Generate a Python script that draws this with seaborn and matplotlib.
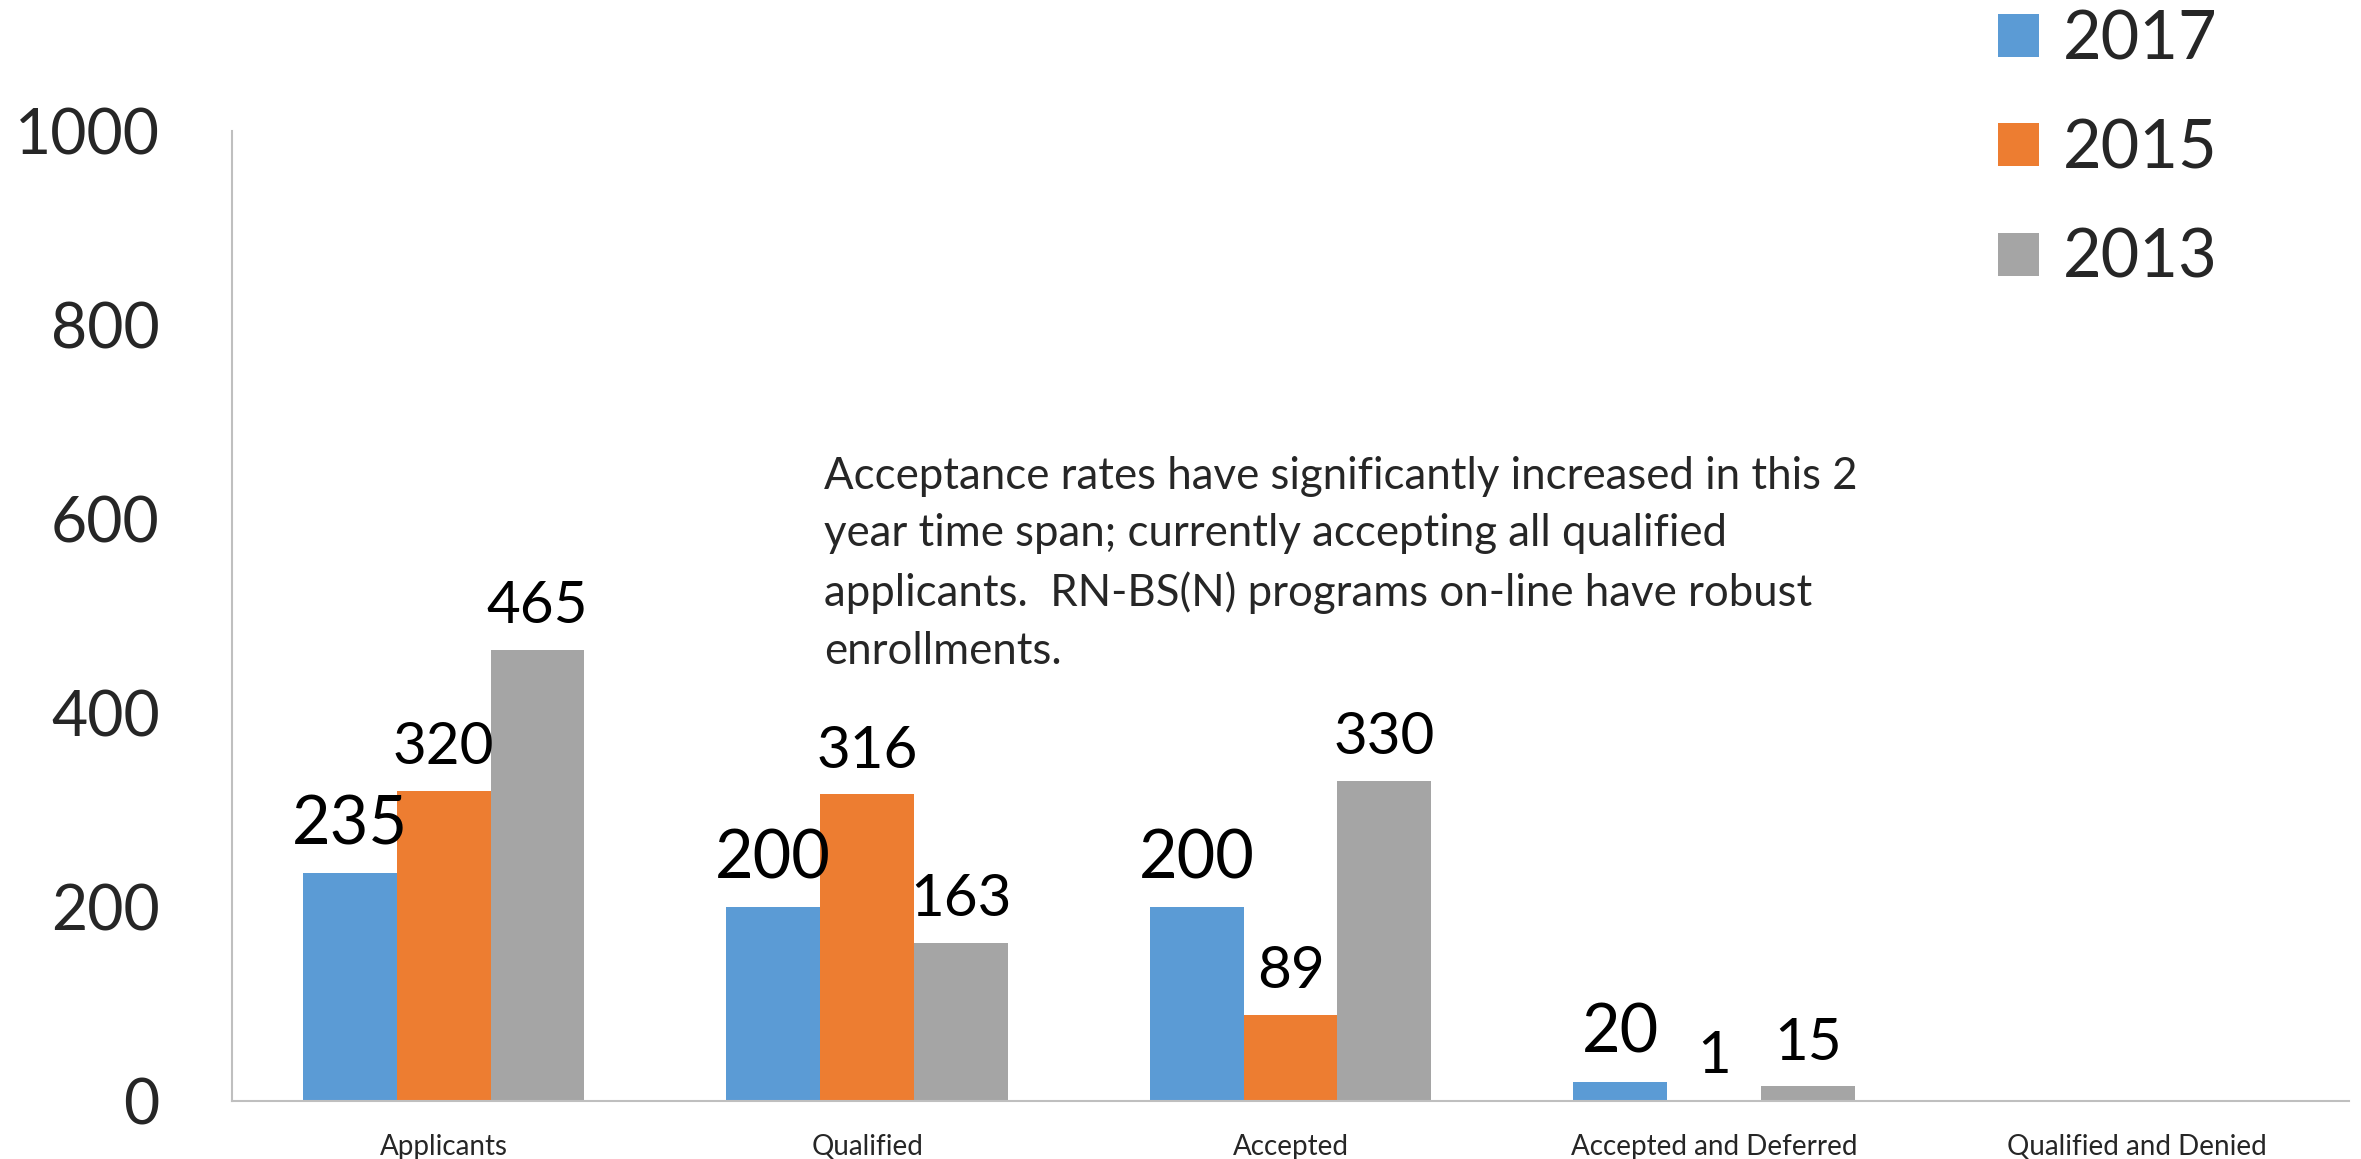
import numpy as np
import pandas as pd
import matplotlib
matplotlib.use("Agg")
import matplotlib.pyplot as plt
import seaborn as sns
from matplotlib.patches import Patch

# ── Data ─────────────────────────────────────────────────────
categories = ["Applicants", "Qualified", "Accepted",
              "Accepted and Deferred", "Qualified and Denied"]
years = ["2017", "2015", "2013"]
vals_2017 = [235, 200, 200, 20, np.nan]
vals_2015 = [320, 316, 89, 1, np.nan]
vals_2013 = [465, 163, 330, 15, np.nan]
colors = ["#5B9BD5", "#ED7D31", "#A5A5A5"]
note = ("Acceptance rates have significantly increased in this 2\n"
        "year time span; currently accepting all qualified\n"
        "applicants.  RN-BS(N) programs on-line have robust\n"
        "enrollments.")

df = pd.DataFrame({
    "category": categories * 3,
    "year": [y for y in years for _ in categories],
    "value": vals_2017 + vals_2015 + vals_2013,
})

sns.set_theme(style="white")
plt.rcParams["font.family"] = ["Lato", "DejaVu Sans"]

fig = plt.figure(figsize=(23.61, 11.59), dpi=100)
ax = fig.add_axes([232 / 2361, 1 - 1101 / 1159, (2349 - 232) / 2361, (1101 - 131) / 1159])

sns.barplot(data=df, x="category", y="value", hue="year", order=categories,
            hue_order=years, palette=colors, saturation=1, width=0.665,
            linewidth=0, errorbar=None, ax=ax, legend=False)

ax.set_xlim(-0.5, len(categories) - 0.5)
ax.set_ylim(0, 1000)
ax.set_yticks(range(0, 1001, 200))
ax.set_xlabel("")
ax.set_ylabel("")
ax.tick_params(axis="y", length=0, labelsize=45, pad=52)
ax.tick_params(axis="x", length=0, labelsize=20, pad=24)
for side in ["top", "right"]:
    ax.spines[side].set_visible(False)
for side in ["left", "bottom"]:
    ax.spines[side].set_color("#BFBFBF")
    ax.spines[side].set_linewidth(1.5)

# value labels: 2017 is drawn larger in the original
label_sizes = [48, 42, 42]
for cont, fs in zip(ax.containers, label_sizes):
    labs = ["" if np.isnan(v) else f"{v:.0f}" for v in cont.datavalues]
    ax.bar_label(cont, labels=labs, fontsize=fs, padding=12, color="black")

ax.text(824 / 2361, 1 - 456 / 1159, note, transform=fig.transFigure,
        fontsize=31.5, va="top", ha="left", linespacing=1.5)

handles = [Patch(facecolor=c, edgecolor="none") for c in colors]
fig.legend(handles, years, loc="upper left",
           bbox_to_anchor=(1998 / 2361, 1 - 9 / 1159), frameon=False,
           fontsize=48, handlelength=0.62, handleheight=0.62,
           handletextpad=0.35, labelspacing=0.71, borderpad=0,
           borderaxespad=0)

plt.savefig("out.png", dpi=100)
